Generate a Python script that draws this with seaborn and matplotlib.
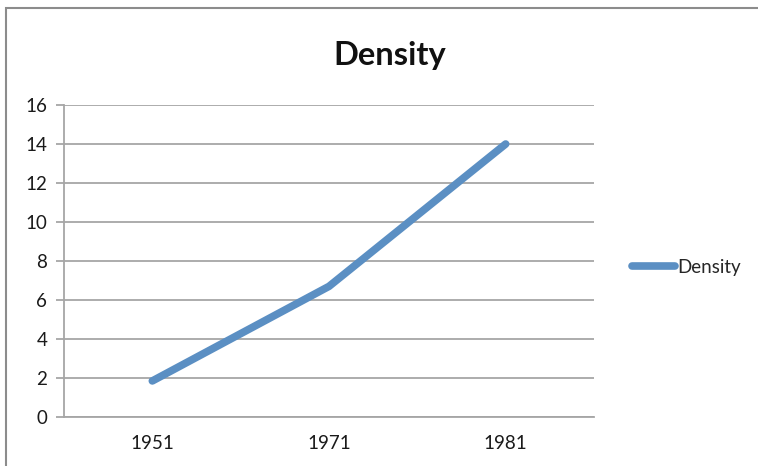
import matplotlib
matplotlib.use("Agg")
import matplotlib.pyplot as plt
import pandas as pd
import seaborn as sns
from matplotlib.patches import Rectangle

years = ["1951", "1971", "1981"]
density = [1.85, 6.7, 14.0]
series_name = "Density"

df = pd.DataFrame({"year": years, "density": density})

sns.set_style("white")
plt.rcParams["font.family"] = ["Lato", "DejaVu Sans"]

fig = plt.figure(figsize=(7.58, 4.66), dpi=100)
ax = fig.add_axes([64 / 758, 1 - 417 / 466, (594 - 64) / 758, (417 - 105) / 466])

sns.lineplot(data=df, x="year", y="density", ax=ax, color="#5B8FC3",
             linewidth=5.5, solid_capstyle="round", label=series_name, sort=False)

grid_col = "#A6A6A6"
ax.set_xlim(-0.5, 2.5)
ax.set_ylim(0, 16)
ax.set_yticks(range(0, 17, 2))
ax.yaxis.grid(True, color=grid_col, linewidth=1.3)
ax.set_axisbelow(True)
ax.set_xticks([0, 1, 2])
ax.set_xticks([-0.5, 0.5, 1.5, 2.5], minor=True)
ax.tick_params(axis="x", which="major", length=0, pad=13, labelsize=13.5, labelcolor="#1A1A1A")
ax.tick_params(axis="x", which="minor", length=5, width=1.3, color=grid_col, direction="out")
ax.tick_params(axis="y", length=6, width=1.3, color=grid_col, direction="out",
               left=True, labelsize=13.5, labelcolor="#1A1A1A", pad=6)
for side in ["top", "right"]:
    ax.spines[side].set_visible(False)
for side in ["left", "bottom"]:
    ax.spines[side].set_color(grid_col)
    ax.spines[side].set_linewidth(1.3)
ax.set_xlabel("")
ax.set_ylabel("")

ax.legend(loc="center left", bbox_to_anchor=(1.04, 0.48), frameon=False,
          fontsize=13.5, handlelength=2.3, handletextpad=0.1)

fig.text(390 / 758, 1 - 55 / 466, "Density", ha="center", va="center",
         fontsize=23.5, fontweight="bold", color="#111111")

fig.patches.append(Rectangle((5.5 / 758, -0.05), 1.0, 1 - 7.5 / 466 + 0.05,
                             transform=fig.transFigure, fill=False,
                             edgecolor="#8C8C8C", linewidth=1.5))

fig.savefig("out.png", dpi=100)
